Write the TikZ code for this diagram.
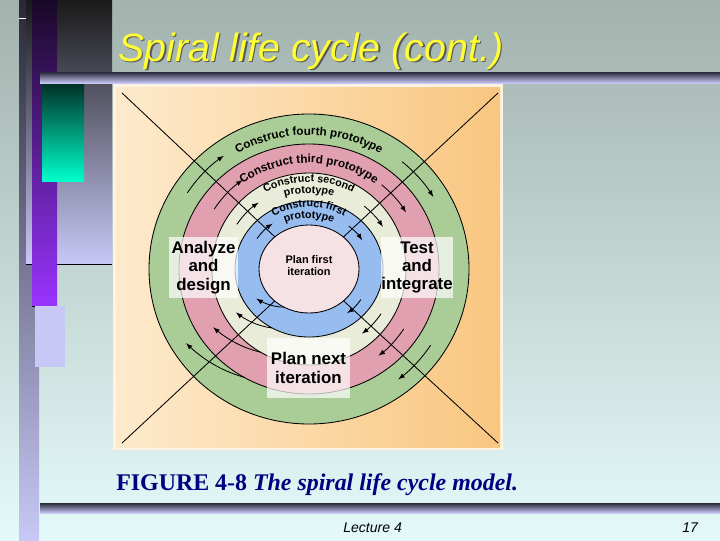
\documentclass[tikz,border=0pt]{standalone}
\usepackage{fontspec}
\setmainfont{Liberation Serif}
\setsansfont{Liberation Sans}
\usetikzlibrary{decorations.text}

\definecolor{slidetop}{RGB}{162,178,173}
\definecolor{slidebot}{RGB}{228,250,250}
\definecolor{lavender}{RGB}{200,200,246}
\definecolor{bardark}{RGB}{40,40,56}
\definecolor{barpurple}{RGB}{153,51,255}
\definecolor{tealgrad}{RGB}{0,255,204}
\definecolor{titleyellow}{RGB}{255,255,51}
\definecolor{capblue}{RGB}{0,0,128}
\definecolor{figcream}{RGB}{253,234,204}
\definecolor{figorange}{RGB}{249,198,128}
\definecolor{ringgreen}{RGB}{170,204,150}
\definecolor{ringpink}{RGB}{224,160,176}
\definecolor{ringcream}{RGB}{233,236,216}
\definecolor{ringblue}{RGB}{150,188,240}
\definecolor{corepink}{RGB}{246,226,228}

\tikzset{
  ring/.style={draw=black, line width=0.6pt},
  flow/.style={-latex, line width=0.6pt},
  phase/.style={fill=white, fill opacity=0.7, text opacity=1, inner sep=0pt, align=center,
    font=\sffamily\bfseries\fontsize{12}{13.1}\selectfont},
  arclabel/.style={decorate, decoration={text along path, text align=center,
    text={|\sffamily\bfseries\fontsize{8.3}{10}\selectfont|#1}}},
  innerlabel/.style={decorate, decoration={text along path, text align=center,
    text={|\sffamily\bfseries\fontsize{7.6}{9}\selectfont|#1}}}
}

\begin{document}
\begin{tikzpicture}[x=0.025cm, y=-0.025cm]

\shade[top color=slidetop, bottom color=slidebot] (0,0) rectangle (720,540);

% left side bars
\shade[top color=bardark, bottom color=lavender] (19,0) rectangle (39,540);
\shade[top color=black!90, bottom color=lavender] (26,0) rectangle (112,264);
\draw[line width=0.6pt] (26,264) -- (112,264);
\shade[top color={rgb,255:red,25;green,8;blue,40}, bottom color=barpurple] (32,0) rectangle (57,306);
\draw[line width=0.6pt] (32,306) -- (57,306);
\shade[top color={rgb,255:red,0;green,50;blue,40}, bottom color=tealgrad] (42,84) rectangle (84,181);
\fill[lavender] (35,306) rectangle (65,367);
\draw[white] (19,18) -- (26,18);

\shade[top color=bardark, bottom color=lavender] (40,72) rectangle (720,83);
\shade[top color=bardark, bottom color=lavender] (40,503) rectangle (720,513);

\node (shadow) [anchor=base west, inner sep=0pt, text=black!65, font=\sffamily\itshape\fontsize{28}{30}\selectfont] at (119.5,62.5) {Spiral life cycle (cont.)};
\node (title) [anchor=base west, inner sep=0pt, text=titleyellow, font=\sffamily\itshape\fontsize{28}{30}\selectfont] at (118,61) {Spiral life cycle (cont.)};

% figure
\fill[figcream!60!white] (113,84) rectangle (503,450);
\shade[left color=figcream, right color=figorange] (116,87) rectangle (500,447);

\coordinate (c) at (309,269);
\coordinate (tl) at (122,93);
\coordinate (tr) at (498,93);
\coordinate (bl) at (122,443);
\coordinate (br) at (498,443);

\filldraw[ring, fill=ringgreen] (c) ellipse [x radius=160, y radius=155];
\filldraw[ring, fill=ringpink] (c) ellipse [x radius=130, y radius=125];
\filldraw[ring, fill=ringcream] (c) ellipse [x radius=97, y radius=96];
\filldraw[ring, fill=ringblue] (c) ellipse [x radius=74, y radius=68];

\path[arclabel={Construct fourth prototype}] (c) ++(200:139 and 134) arc[start angle=200, end angle=340, x radius=139, y radius=134];
\path[arclabel={Construct third prototype}] (c) ++(200:111 and 106) arc[start angle=200, end angle=340, x radius=111, y radius=106];
\path[innerlabel={Construct second}] (c) ++(200:92 and 87) arc[start angle=200, end angle=340, x radius=92, y radius=87];
\path[innerlabel={prototype}] (c) ++(200:81 and 76) arc[start angle=200, end angle=340, x radius=81, y radius=76];
\path[innerlabel={Construct first}] (c) ++(200:67 and 62) arc[start angle=200, end angle=340, x radius=67, y radius=62];
\path[innerlabel={prototype}] (c) ++(200:56 and 51) arc[start angle=200, end angle=340, x radius=56, y radius=51];

\draw[line width=0.6pt] (tl) -- (c);
\draw[line width=0.6pt] (tr) -- (c);
\draw[line width=0.6pt] (bl) -- (c);
\draw[line width=0.6pt] (br) -- (c);

\foreach \rx/\ry/\ix/\iy in {145/140/130/125, 113/110/97/96, 86/82/74/68, 62/56/50/44}{
  \draw[flow] (c) ++(213:{\rx} and {\ry}) arc[start angle=213, end angle=234, x radius=\rx, y radius=\ry];
  \draw[flow] (c) ++(310:{\rx} and {\ry}) arc[start angle=310, end angle=329, x radius=\rx, y radius=\ry];
  \draw[flow] (c) ++(33:{\rx} and {\ry}) arc[start angle=33, end angle=52, x radius=\rx, y radius=\ry];
  \draw[flow, shift={(c)}] plot[smooth, domain=0:1, samples=12, variable=\t]
    ({(\ix+(\rx-\ix)*\t)*cos(120+28*\t)}, {(\iy+(\ry-\iy)*\t)*sin(120+28*\t)});
}

\filldraw[ring, fill=corepink] (c) ellipse [x radius=50, y radius=44];
\node (core) [align=center, font=\sffamily\bfseries\fontsize{7.8}{8.5}\selectfont] at (309,266) {Plan first\\iteration};

\node (analyze) [phase, minimum width=1.725cm, minimum height=1.525cm] at (203.5,267.5) {Analyze\\and\\design};
\node (test) [phase, minimum width=1.75cm, minimum height=1.525cm] at (417,267.5) {Test\\and\\integrate};
\node (plannext) [phase, minimum width=2.075cm, minimum height=1.5cm] at (308.5,368) {Plan next\\iteration};

\node (caption) [anchor=base west, inner sep=0pt, text=capblue, font=\fontsize{17}{19}\selectfont] at (116,490) {\textbf{FIGURE 4-8} \textbf{\textit{The spiral life cycle model.}}};
\node (lecture) [anchor=base west, inner sep=0pt, font=\sffamily\itshape\fontsize{10}{12}\selectfont] at (343,532) {Lecture 4};
\node (pagenum) [anchor=base west, inner sep=0pt, font=\sffamily\itshape\fontsize{10}{12}\selectfont] at (682,532) {17};

\end{tikzpicture}
\end{document}
